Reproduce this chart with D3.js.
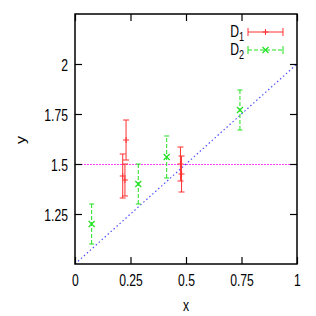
<!DOCTYPE html>
<html>
<head>
<meta charset="utf-8">
<script src="https://cdn.jsdelivr.net/npm/d3@7"></script>
<style>
  html, body { margin: 0; padding: 0; background: #fff; }
  svg { display: block; }
  text { font-family: "Liberation Sans", Arial, sans-serif; fill: #000; }
</style>
</head>
<body>
<div id="chart"></div>
<script>
'use strict';

// tick labels
var xTicks = [0, 0.25, 0.5, 0.75, 1];
var yTicks = [1.25, 1.5, 1.75, 2];

// D1: y error bars, + markers
var d1X = [0.215, 0.23, 0.225, 0.475, 0.48];
var d1Y = [1.44, 1.62, 1.42, 1.50, 1.45];
var d1Err = [0.11, 0.10, 0.08, 0.085, 0.09];

// D2: y error bars, x markers
var d2X = [0.075, 0.285, 0.413, 0.743];
var d2Y = [1.20, 1.40, 1.535, 1.77];
var d2Err = [0.10, 0.10, 0.105, 0.10];

// reference lines
var diagX = [0, 1];
var diagY = [1, 2];
var hLineY = 1.5;

var W = 316, H = 316;
var plot = { left: 75, right: 297, top: 14, bottom: 264 };
var SQ = 0.76; // horizontal squeeze of the glyphs

var x = d3.scaleLinear().domain([0, 1]).range([plot.left, plot.right]);
var y = d3.scaleLinear().domain([1, 2.25]).range([plot.bottom, plot.top]);

var $svg = d3.select('#chart').append('svg')
  .attr('width', W)
  .attr('height', H);

function squeezeText(sel) {
  sel.each(function() {
    var t = d3.select(this);
    var tx = +t.attr('x') || 0, ty = +t.attr('y') || 0;
    t.attr('x', null).attr('y', null)
      .attr('transform', 'translate(' + tx + ',' + ty + ') scale(' + SQ + ',1)');
  });
}

// clip for data
$svg.append('clipPath').attr('id', 'clip')
  .append('rect')
  .attr('x', plot.left).attr('y', plot.top)
  .attr('width', plot.right - plot.left)
  .attr('height', plot.bottom - plot.top);

var $data = $svg.append('g').attr('clip-path', 'url(#clip)');

// horizontal line y = 1.5
$data.append('line')
  .attr('x1', x(0)).attr('x2', x(1))
  .attr('y1', y(hLineY) + 0.5).attr('y2', y(hLineY) + 0.5)
  .attr('stroke', '#ff40ff')
  .attr('stroke-width', 1)
  .attr('stroke-dasharray', '2,1');

// diagonal
$data.append('path')
  .datum(d3.zip(diagX, diagY))
  .attr('d', d3.line().x(function(d) { return x(d[0]); }).y(function(d) { return y(d[1]); }))
  .attr('fill', 'none')
  .attr('stroke', '#5050ff')
  .attr('stroke-width', 1.2)
  .attr('stroke-dasharray', '1.5,2.5');

function errorBars(g, xs, ys, es, color, dash, cap) {
  var pts = xs.map(function(v, i) { return { x: v, y: ys[i], e: es[i] }; });
  var grp = g.selectAll(null).data(pts).enter().append('g')
    .attr('stroke', color)
    .attr('stroke-width', 1)
    .attr('fill', 'none');
  grp.append('line')
    .attr('x1', function(d) { return x(d.x); })
    .attr('x2', function(d) { return x(d.x); })
    .attr('y1', function(d) { return y(d.y - d.e); })
    .attr('y2', function(d) { return y(d.y + d.e); })
    .attr('stroke-dasharray', dash);
  grp.append('line')
    .attr('x1', function(d) { return x(d.x) - cap; })
    .attr('x2', function(d) { return x(d.x) + cap; })
    .attr('y1', function(d) { return y(d.y - d.e); })
    .attr('y2', function(d) { return y(d.y - d.e); });
  grp.append('line')
    .attr('x1', function(d) { return x(d.x) - cap; })
    .attr('x2', function(d) { return x(d.x) + cap; })
    .attr('y1', function(d) { return y(d.y + d.e); })
    .attr('y2', function(d) { return y(d.y + d.e); });
  return grp;
}

function plusMark(g, cx, cy, color) {
  g.append('path')
    .attr('d', 'M' + (cx - 3) + ',' + cy + 'H' + (cx + 3) + 'M' + cx + ',' + (cy - 3) + 'V' + (cy + 3))
    .attr('stroke', color).attr('stroke-width', 1).attr('fill', 'none');
}
function crossMark(g, cx, cy, color) {
  g.append('path')
    .attr('d', 'M' + (cx - 3) + ',' + (cy - 3) + 'L' + (cx + 3) + ',' + (cy + 3) +
               'M' + (cx - 3) + ',' + (cy + 3) + 'L' + (cx + 3) + ',' + (cy - 3))
    .attr('stroke', color).attr('stroke-width', 1.2).attr('fill', 'none');
}

var red = '#ff3030', green = '#20e020';

errorBars($data, d1X, d1Y, d1Err, red, null, 3)
  .each(function(d) { plusMark(d3.select(this), x(d.x), y(d.y), red); });
errorBars($data, d2X, d2Y, d2Err, green, '4,2', 2.5)
  .each(function(d) { crossMark(d3.select(this), x(d.x), y(d.y), green); });

// axes, ticks inward on all four sides
var xAxisB = d3.axisBottom(x).tickValues(xTicks).tickSize(-7).tickPadding(14)
  .tickFormat(d3.format('~g'));
var xAxisT = d3.axisTop(x).tickValues(xTicks).tickSize(-7).tickFormat('');
var yAxisL = d3.axisLeft(y).tickValues(yTicks).tickSize(-7).tickPadding(14)
  .tickFormat(d3.format('~g'));
var yAxisR = d3.axisRight(y).tickValues(yTicks).tickSize(-7).tickFormat('');

function styleAxis(g) {
  g.select('.domain').remove();
  g.selectAll('.tick line').attr('stroke', '#000').attr('stroke-width', 1.2);
  g.selectAll('.tick text')
    .attr('font-size', 16)
    .attr('font-family', '"Liberation Sans", Arial, sans-serif')
    .attr('fill', '#000');
}

var $xb = $svg.append('g').attr('transform', 'translate(0,' + plot.bottom + ')').call(xAxisB).call(styleAxis);
$xb.selectAll('.tick text').attr('dy', null).attr('y', 22).call(squeezeText);
$svg.append('g').attr('transform', 'translate(0,' + plot.top + ')').call(xAxisT).call(styleAxis);
var $yl = $svg.append('g').attr('transform', 'translate(' + plot.left + ',0)').call(yAxisL).call(styleAxis);
$yl.selectAll('.tick text').attr('dy', null).attr('x', -7).attr('y', 6).call(squeezeText);
$svg.append('g').attr('transform', 'translate(' + plot.right + ',0)').call(yAxisR).call(styleAxis);

// frame
$svg.append('rect')
  .attr('x', plot.left).attr('y', plot.top)
  .attr('width', plot.right - plot.left)
  .attr('height', plot.bottom - plot.top)
  .attr('fill', 'none')
  .attr('stroke', '#000')
  .attr('stroke-width', 1.5);

// axis titles
$svg.append('text')
  .attr('x', (plot.left + plot.right) / 2).attr('y', 311)
  .attr('text-anchor', 'middle').attr('font-size', 16)
  .text('x').call(squeezeText);
$svg.append('text')
  .attr('text-anchor', 'middle').attr('font-size', 16)
  .attr('transform', 'translate(25,140) rotate(-90) scale(1,' + SQ + ')')
  .text('y');

// legend
var legend = [
  { name: 'D', sub: '1', color: red, dash: null, y: 32, mark: plusMark },
  { name: 'D', sub: '2', color: green, dash: '4,2', y: 50, mark: crossMark }
];
var lx1 = 248, lx2 = 283;
legend.forEach(function(l) {
  var t = $svg.append('text')
    .attr('font-size', 16)
    .attr('text-anchor', 'end')
    .attr('transform', 'translate(244,' + (l.y + 5) + ') scale(' + SQ + ',1)');
  t.append('tspan').text(l.name);
  t.append('tspan').attr('font-size', 12).attr('dy', 4).text(l.sub);
  var g = $svg.append('g').attr('stroke', l.color).attr('stroke-width', 1).attr('fill', 'none');
  g.append('line').attr('x1', lx1).attr('x2', lx2).attr('y1', l.y).attr('y2', l.y)
    .attr('stroke-dasharray', l.dash);
  g.append('line').attr('x1', lx1).attr('x2', lx1).attr('y1', l.y - 4).attr('y2', l.y + 4);
  g.append('line').attr('x1', lx2).attr('x2', lx2).attr('y1', l.y - 4).attr('y2', l.y + 4);
  l.mark(g, (lx1 + lx2) / 2, l.y, l.color);
});
</script>
</body>
</html>
